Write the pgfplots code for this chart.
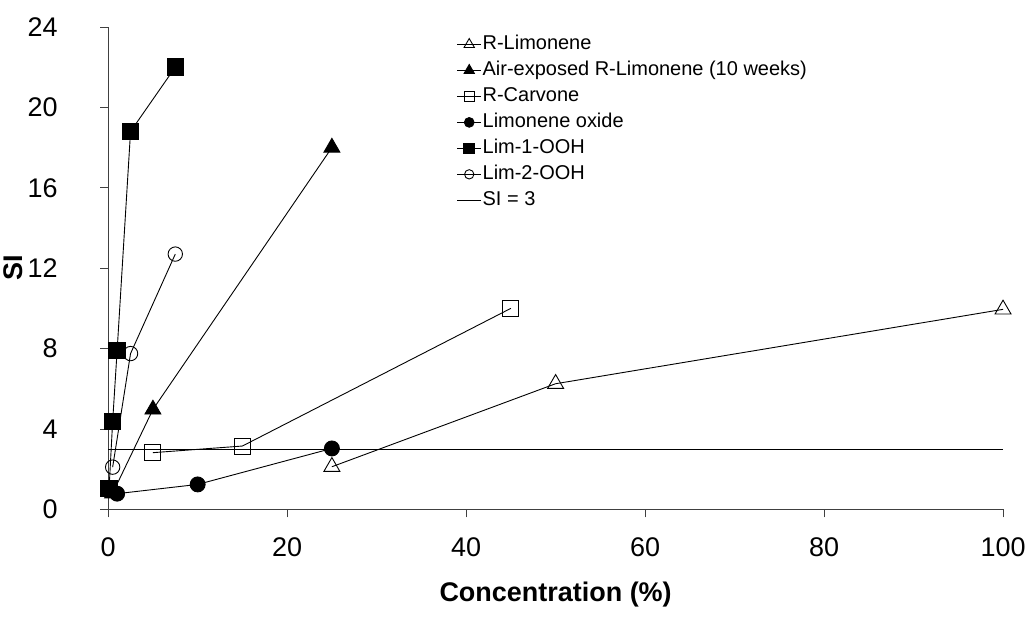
\documentclass[border=0pt]{standalone}
\usepackage{fontspec}
\setmainfont{Liberation Sans}
\usepackage{pgfplots}
\pgfplotsset{compat=1.18}
\begin{document}
\begin{tikzpicture}
\begin{axis}[
  scale only axis, width=896pt, height=483pt,
  xmin=0, xmax=100, ymin=0, ymax=24,
  xtick={0,20,...,100}, ytick={0,4,...,24},
  axis lines*=left,
  axis line style={line width=0.9pt, -, draw=black!75},
  tick align=outside, major tick length=8pt,
  tick style={line width=0.9pt, draw=black!75},
  /pgf/number format/assume math mode=true,
  ticklabel style={font=\fontsize{27}{32}\selectfont},
  xticklabel style={yshift=-17pt},
  yticklabel style={xshift=-39pt},
  xlabel={\textbf{Concentration (\%)}}, ylabel={\textbf{SI}},
  label style={font=\fontsize{27}{32}\selectfont},
  xlabel style={yshift=-18pt},
  ylabel style={at={(rel axis cs:-0.1065,0.5)}, anchor=center, rotate=0,
    font=\fontsize{27}{32}\selectfont},
  clip=false,
  every axis plot/.append style={black, line width=0.9pt},
  legend style={draw=none, fill=none, at={(0.386,0.991)}, anchor=north west,
    font=\fontsize{20}{24}\selectfont, row sep=4pt,
    nodes={inner sep=1pt, text height=15pt, text depth=5pt}},
  legend cell align=left,
  legend image code/.code={%
    \draw[mark repeat=2, mark phase=2, #1, /tikz/every mark/.append style={scale=0.65}]
      plot coordinates {(0pt,0pt) (12pt,0pt) (24pt,0pt)};},
]
% R-Limonene
\addplot[mark=triangle, mark size=9.2pt, mark options={solid, line width=0.9pt}]
  coordinates {(25,2.12) (50,6.25) (100,9.95)};
\addlegendentry{R-Limonene}
% Air-exposed R-Limonene
\addplot[mark=triangle*, mark size=9.2pt, mark options={solid, fill=black}]
  coordinates {(0.5,0.8) (5,4.97) (25,18.0)};
\addlegendentry{Air-exposed R-Limonene (10 weeks)}
% R-Carvone
\addplot[mark=square, mark size=8pt, mark options={solid, line width=0.9pt}]
  coordinates {(5,2.82) (15,3.15) (45,10.0)};
\addlegendentry{R-Carvone}
% Limonene oxide
\addplot[mark=*, mark size=7.5pt, mark options={solid, fill=black}]
  coordinates {(1,0.78) (10,1.24) (25,3.03)};
\addlegendentry{Limonene oxide}
% Lim-1-OOH
\addplot[mark=square*, mark size=8.3pt, mark options={solid, fill=black}]
  coordinates {(0.1,1.03) (0.5,4.38) (1,7.9) (2.5,18.8) (7.5,22.0)};
\addlegendentry{Lim-1-OOH}
% Lim-2-OOH
\addplot[mark=o, mark size=7.2pt, mark options={solid, line width=0.9pt}]
  coordinates {(0.5,2.1) (2.5,7.75) (7.5,12.7)};
\addlegendentry{Lim-2-OOH}
% SI = 3
\addplot[no marks] coordinates {(0,3) (100,3)};
\addlegendentry{SI = 3}
\end{axis}
\path (current axis.south west) ++(-107pt,-109pt) coordinate (bbA);
\path (current axis.north east) ++(26pt,27pt) coordinate (bbB);
\path (bbA) rectangle (bbB);
\end{tikzpicture}
\end{document}
